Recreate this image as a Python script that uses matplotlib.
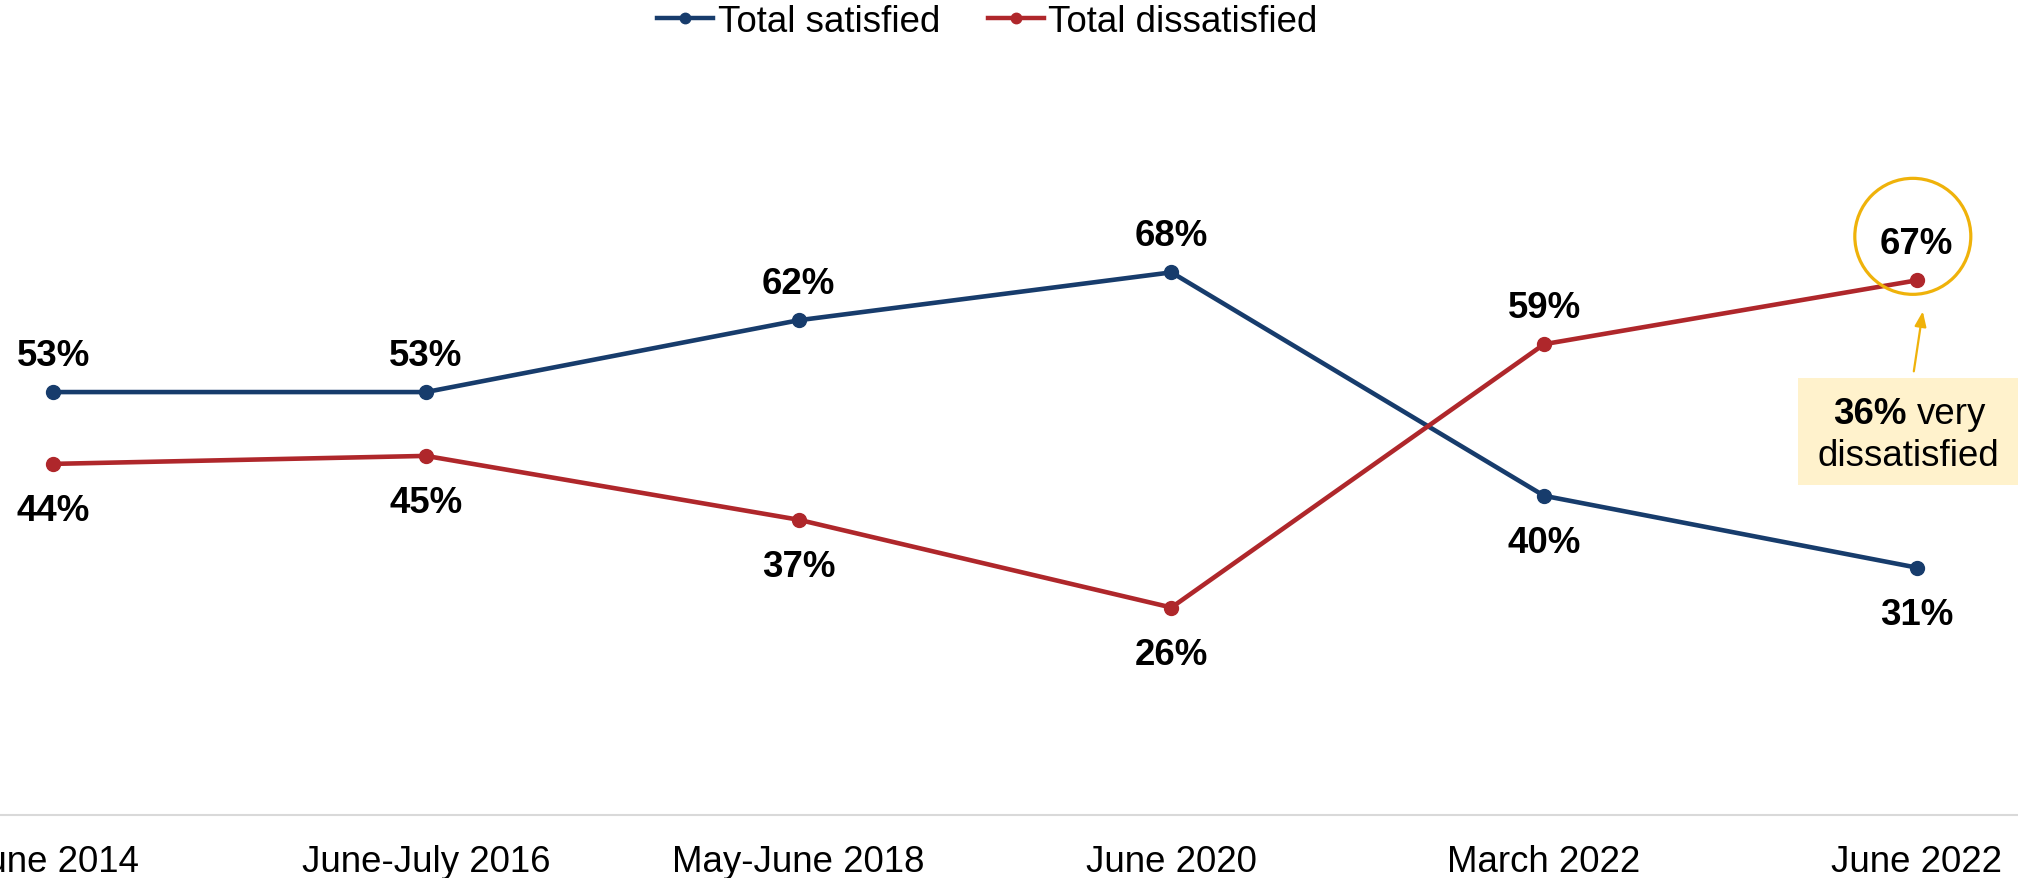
import matplotlib
matplotlib.use("Agg")
import matplotlib.pyplot as plt
from matplotlib.lines import Line2D
from matplotlib.patches import Rectangle, Circle
from matplotlib.transforms import IdentityTransform

plt.rcParams['font.family'] = ['Liberation Sans', 'DejaVu Sans']

# ---- data ----
periods = ["June 2014", "June-July 2016", "May-June 2018", "June 2020", "March 2022", "June 2022"]
satisfied = [53, 53, 62, 68, 40, 31]
dissatisfied = [44, 45, 37, 26, 59, 67]
sat_label_above = [True, True, True, True, False, False]
dis_label_above = [False, False, False, False, True, True]
callout_bold = "36%"
callout_rest = "very"
callout_line2 = "dissatisfied"

BLUE = "#173C6C"
RED = "#AF272B"
GOLD = "#EFB20A"
BOXFILL = "#FFF2CC"
FS = 26.4

W, H, DPI = 2018, 879, 100
fig = plt.figure(figsize=(W / DPI, H / DPI), dpi=DPI)
ax = fig.add_axes([0, (H - 816) / H, 1, 798 / H])
x = list(range(len(periods)))
ax.set_xlim(-0.143, 5.2715)
ax.set_ylim(0, 100)

ax.plot(x, satisfied, color=BLUE, lw=3.3, marker='o', ms=10, zorder=3, clip_on=False)
ax.plot(x, dissatisfied, color=RED, lw=3.3, marker='o', ms=10, zorder=3, clip_on=False)

for xi, v, above in zip(x, satisfied, sat_label_above):
    ax.annotate(f"{v}%", (xi, v), xytext=(0, 27 if above else -56), textcoords='offset pixels',
                ha='center', va='baseline', fontsize=FS, fontweight='bold', color='black')
for xi, v, above in zip(x, dissatisfied, dis_label_above):
    ax.annotate(f"{v}%", (xi, v), xytext=(0, 27 if above else -56), textcoords='offset pixels',
                ha='center', va='baseline', fontsize=FS, fontweight='bold', color='black')

# axes styling
for s in ['top', 'left', 'right']:
    ax.spines[s].set_visible(False)
ax.spines['bottom'].set_color('#D9D9D9')
ax.spines['bottom'].set_linewidth(1.5)
ax.set_yticks([])
ax.set_xticks(x)
ax.set_xticklabels(periods, fontsize=FS)
ax.tick_params(axis='x', length=0, pad=21)

# legend
handles = [Line2D([], [], color=BLUE, lw=3.2, marker='o', ms=7.5),
           Line2D([], [], color=RED, lw=3.2, marker='o', ms=7.5)]
fig.legend(handles, ["Total satisfied", "Total dissatisfied"], loc='center',
           bbox_to_anchor=(0.4893, 1 - 22 / H), ncol=2, frameon=False, fontsize=FS,
           handlelength=1.53, handletextpad=0.12, columnspacing=1.3, borderpad=0)

# callout on last dissatisfied point
px, py = ax.transData.transform((x[-1], dissatisfied[-1]))
circ = Circle((px - 4, py + 44), 58, transform=IdentityTransform(), fill=False,
              edgecolor=GOLD, lw=2.3, zorder=4, clip_on=False)
fig.add_artist(circ)
rect = Rectangle((px - 119, py - 205), 240, 107, transform=IdentityTransform(),
                 facecolor=BOXFILL, edgecolor='none', zorder=1, clip_on=False)
fig.add_artist(rect)
ax.annotate('', xy=(px + 6, py - 31), xycoords='figure pixels',
            xytext=(px - 3, py - 91), textcoords='figure pixels',
            arrowprops=dict(arrowstyle='-|>,head_length=0.9,head_width=0.35', color=GOLD,
                            lw=1.6, shrinkA=0, shrinkB=0))
fig.text(px - 10, py - 143, callout_bold, transform=IdentityTransform(), ha='right',
         va='baseline', fontsize=FS, fontweight='bold', color='black', zorder=5)
fig.text(px + 0, py - 143, callout_rest, transform=IdentityTransform(), ha='left',
         va='baseline', fontsize=FS, color='black', zorder=5)
fig.text(px - 8, py - 185, callout_line2, transform=IdentityTransform(), ha='center',
         va='baseline', fontsize=FS, color='black', zorder=5)

fig.savefig("out.png", dpi=DPI)
